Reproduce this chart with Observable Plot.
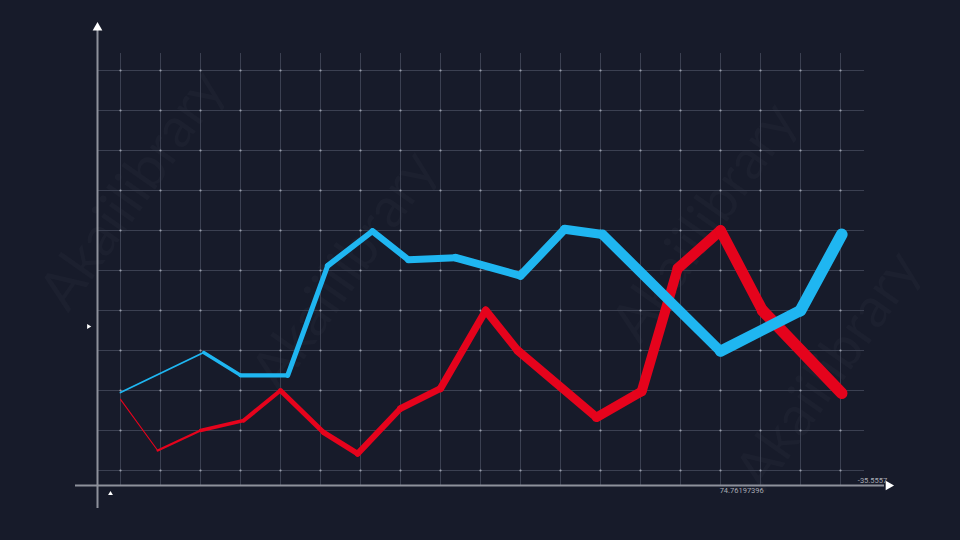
<!DOCTYPE html>
<html>
<head>
<meta charset="utf-8">
<script src="https://cdn.jsdelivr.net/npm/d3@7"></script>
<script src="https://cdn.jsdelivr.net/npm/@observablehq/plot@0.6"></script>
<style>
  html, body { margin: 0; padding: 0; background: #171b2a; }
  #chart { width: 960px; height: 540px; }
  svg { display: block; }
</style>
</head>
<body>
<div id="chart"></div>
<script>
// ---- data (grid units) ----
const blueX = [0, 2.08, 3, 4.18, 5.18, 6.3, 7.2, 8.38, 10, 11.1, 12.05, 15, 17, 18.03];
const blueY = [1.95, 2.95, 2.38, 2.38, 5.12, 5.98, 5.27, 5.32, 4.87, 6.03, 5.9, 2.98, 4.0, 5.9];
const redX = [0, 0.93, 2, 3.08, 4, 5.08, 5.93, 7, 8, 9.13, 9.93, 11.9, 13.03, 13.93, 15, 16.05, 18.03];
const redY = [1.78, 0.5, 1.0, 1.25, 2.0, 0.95, 0.42, 1.55, 2.05, 4.0, 3.0, 1.33, 1.98, 5.05, 6.0, 4.0, 1.93];
const gridX = d3.range(0, 19);
const gridY = d3.range(0, 11);
const axisLabels = [
  {text: "74.76197396", x: 15.53, y: -0.5},
  {text: "-35.5557", x: 18.8, y: -0.26}
];
const watermark = "Akaiilibrary";

// ---- helpers ----
const X0 = -0.575, Y0 = -0.375; // axis positions in grid units
function segments(xs, ys, name) {
  const out = [];
  for (let i = 0; i < xs.length - 1; i++) {
    out.push({x1: xs[i], y1: ys[i], x2: xs[i + 1], y2: ys[i + 1], series: name});
  }
  return out;
}
const taper = s => 12 * Math.pow(((s.x1 + s.x2) / 2) / 18, 0.65);
const blueSeg = segments(blueX, blueY, "blue");
const redSeg = segments(redX, redY, "red");
const crosses = gridX.flatMap(x => gridY.map(y => ({x, y})));

const wm = [
  {x: 0.3, y: 7.0}, {x: 5.6, y: 5.0}, {x: 14.6, y: 6.2}, {x: 17.7, y: 2.5}
];

const chart = Plot.plot({
  width: 960,
  height: 540,
  margin: 0,
  x: {domain: [0, 18], range: [120, 840]},
  y: {domain: [0, 10], range: [470, 70]},
  axis: null,
  style: {background: "#171b2a", fontFamily: "Roboto, sans-serif", overflow: "visible"},
  marks: [
    Plot.text(wm, {x: "x", y: "y", text: () => watermark, rotate: -55, fontSize: 56,
      fill: "#ffffff", fillOpacity: 0.025, fontFamily: "Lato, sans-serif"}),
    // grid
    Plot.ruleX(gridX, {x: d => d, y1: 10.425, y2: Y0, stroke: "#3b4051", strokeWidth: 1}),
    Plot.ruleY(gridY, {y: d => d, x1: X0, x2: 18.6, stroke: "#3b4051", strokeWidth: 1}),
    Plot.dot(crosses, {x: "x", y: "y", r: 1.1, fill: "#9a9eab", stroke: null}),
    // axes
    Plot.ruleX([X0], {x: d => d, y1: -0.95, y2: 11.0, stroke: "#8e919b", strokeWidth: 2}),
    Plot.ruleY([Y0], {y: d => d, x1: -1.125, x2: 19.1, stroke: "#8e919b", strokeWidth: 2}),
    Plot.dot([{x: X0, y: 11.07}], {x: "x", y: "y", symbol: "triangle", r: 3.6, fill: "#ffffff", stroke: null}),
    Plot.dot([{x: 19.2, y: Y0}], {x: "x", y: "y", symbol: "triangle", r: 3.6, rotate: 90, fill: "#ffffff", stroke: null}),
    Plot.dot([{x: -0.8, y: 3.6}], {x: "x", y: "y", symbol: "triangle", r: 1.8, rotate: 90, fill: "#ffffff", stroke: null}),
    Plot.dot([{x: -0.25, y: -0.58}], {x: "x", y: "y", symbol: "triangle", r: 1.8, fill: "#ffffff", stroke: null}),
    Plot.text(axisLabels, {x: "x", y: "y", text: "text", fontSize: 7.5, fill: "#a9acb5", textAnchor: "middle"}),
    // series
    Plot.link(redSeg, {x1: "x1", y1: "y1", x2: "x2", y2: "y2", stroke: "#e5031c",
      strokeWidth: taper, strokeLinecap: "round", strokeLinejoin: "round"}),
    Plot.link(blueSeg, {x1: "x1", y1: "y1", x2: "x2", y2: "y2", stroke: "#1fb6f1",
      strokeWidth: taper, strokeLinecap: "round", strokeLinejoin: "round"})
  ]
});
document.getElementById("chart").appendChild(chart);
</script>
</body>
</html>
